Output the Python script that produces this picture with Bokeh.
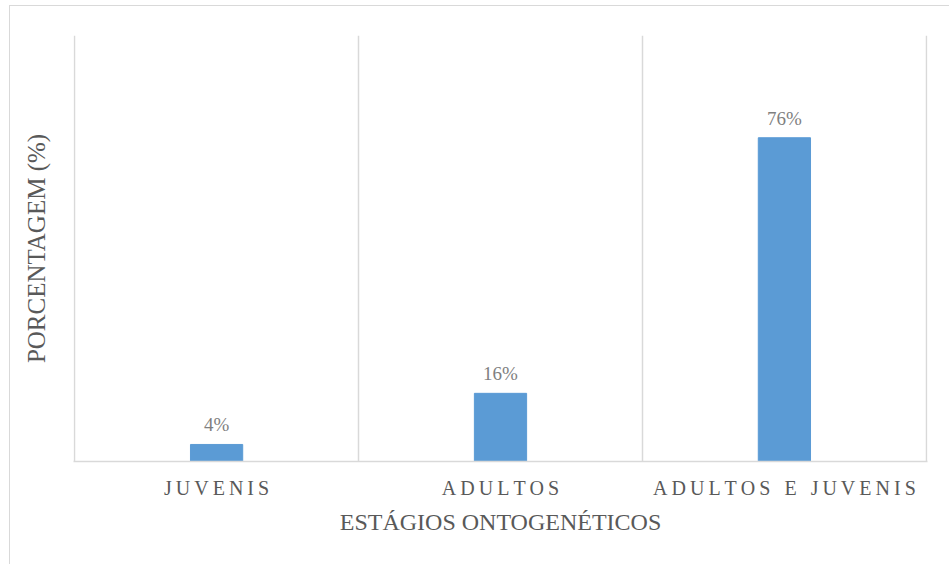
from bokeh.plotting import figure
from bokeh.models import FixedTicker, Range1d, ColumnDataSource
from bokeh.core.properties import value
from bokeh.embed import file_html
from bokeh.resources import INLINE

categories = ["JUVENIS", "ADULTOS", "ADULTOS E JUVENIS"]
values = [4, 16, 76]
value_labels = ["4%", "16%", "76%"]

SP = "\u2009"
def spaced(s):
    return (SP + "\u2002").join(SP.join(w) for w in s.split(" "))

xs = [i + 0.5 for i in range(len(categories))]
src = ColumnDataSource(dict(x=xs, top=values, lab=value_labels))

FONT = "Liberation Serif"
n = len(categories)
p = figure(width=940, height=559, output_backend="svg", toolbar_location=None,
           x_range=Range1d(-0.004, n + 0.004), y_range=Range1d(0, 100),
           min_border_left=63, min_border_right=23, min_border_top=29, min_border_bottom=104,
           styles={"margin-left": "9px", "margin-top": "5px",
                   "border-left": "1.5px solid #d9d9d9", "border-top": "1.5px solid #d9d9d9"})
p.outline_line_color = None
p.background_fill_color = "white"
p.border_fill_color = "white"

p.vbar(x="x", top="top", width=0.184, source=src, color="#5B9BD5")
p.text(x="x", y="top", text="lab", source=src, text_align="center", text_baseline="bottom",
       y_offset=-9, text_font=value(FONT), text_font_size="19px", text_color="#7f7f7f")

xa = p.xaxis[0]
xa.ticker = FixedTicker(ticks=xs)
xa.major_label_overrides = {x: spaced(c) for x, c in zip(xs, categories)}
xa.major_tick_line_color = None
xa.minor_tick_line_color = None
xa.axis_line_color = "#d9d9d9"
xa.axis_line_width = 1.5
xa.major_label_text_font = FONT
xa.major_label_text_font_size = "20px"
xa.major_label_text_color = "#595959"
xa.major_label_standoff = 9
xa.axis_label = "ESTÁGIOS ONTOGENÉTICOS"
xa.axis_label_text_font = FONT
xa.axis_label_text_font_size = "24px"
xa.axis_label_text_font_style = "normal"
xa.axis_label_text_color = "#595959"
xa.axis_label_standoff = 7

ya = p.yaxis[0]
ya.ticker = FixedTicker(ticks=[])
ya.major_label_text_font_size = "0px"
ya.major_tick_line_color = None
ya.minor_tick_line_color = None
ya.axis_line_color = None
ya.axis_label = "PORCENTAGEM (%)"
ya.axis_label_text_font = FONT
ya.axis_label_text_font_size = "25px"
ya.axis_label_text_font_style = "normal"
ya.axis_label_text_color = "#595959"
ya.axis_label_standoff = 24

p.ygrid.visible = False
p.xgrid.ticker = FixedTicker(ticks=list(range(n + 1)))
p.xgrid.grid_line_color = "#d9d9d9"
p.xgrid.grid_line_width = 1.5

open("out.html", "w").write(file_html(p, INLINE))
